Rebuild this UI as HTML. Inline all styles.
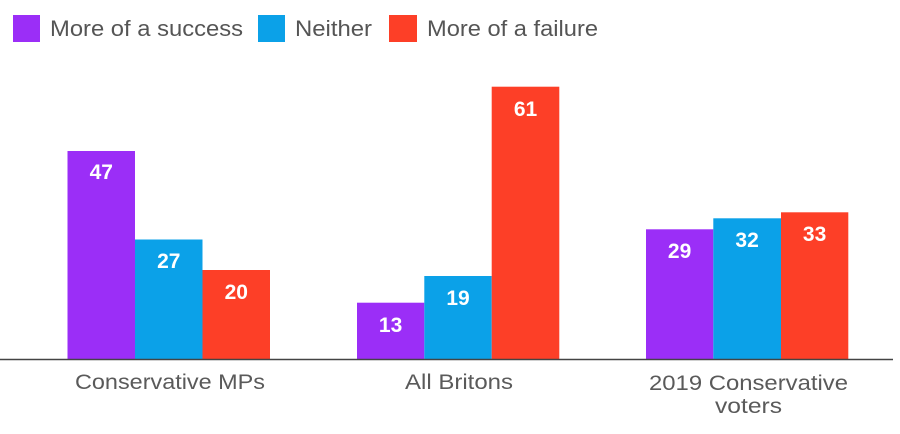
<!DOCTYPE html>
<html>
<head>
<meta charset="utf-8">
<style>
  html,body{margin:0;padding:0;background:#fff;}
  svg{display:block;}
  .lg{font-family:"Liberation Sans",sans-serif;font-size:22px;fill:#555;}
  .cat{font-family:"Liberation Sans",sans-serif;font-size:21px;fill:#5a5a5a;}
  .val{font-family:"Liberation Sans",sans-serif;font-size:21px;font-weight:bold;fill:#fff;text-anchor:middle;}
</style>
</head>
<body>
<svg width="900" height="434" viewBox="0 0 900 434" xmlns="http://www.w3.org/2000/svg">
  <rect width="900" height="434" fill="#fff"/>
  <!-- Legend -->
  <rect x="13" y="15" width="27" height="27" fill="#9b2ef7"/>
  <text class="lg" x="50" y="36" textLength="193" lengthAdjust="spacingAndGlyphs">More of a success</text>
  <rect x="258" y="15" width="27" height="27" fill="#0ba1e8"/>
  <text class="lg" x="295" y="36" textLength="77" lengthAdjust="spacingAndGlyphs">Neither</text>
  <rect x="389" y="15" width="28" height="27" fill="#fd3f27"/>
  <text class="lg" x="427" y="36" textLength="171" lengthAdjust="spacingAndGlyphs">More of a failure</text>

  <!-- Group 1 -->
  <rect x="67.5" y="151" width="67.5" height="208.5" fill="#9b2ef7"/>
  <rect x="135" y="239.5" width="67.5" height="120" fill="#0ba1e8"/>
  <rect x="202.5" y="270" width="67.5" height="89.5" fill="#fd3f27"/>
  <text class="val" x="101.25" y="179">47</text>
  <text class="val" x="168.75" y="268">27</text>
  <text class="val" x="236.25" y="299">20</text>

  <!-- Group 2 -->
  <rect x="357" y="302.7" width="67.3" height="56.8" fill="#9b2ef7"/>
  <rect x="424.3" y="276" width="67.4" height="83.5" fill="#0ba1e8"/>
  <rect x="491.7" y="86.7" width="67.6" height="272.8" fill="#fd3f27"/>
  <text class="val" x="390.6" y="332">13</text>
  <text class="val" x="458" y="305">19</text>
  <text class="val" x="525.5" y="116">61</text>

  <!-- Group 3 -->
  <rect x="646" y="229.3" width="67.3" height="130.2" fill="#9b2ef7"/>
  <rect x="713.3" y="218.3" width="67.7" height="141.2" fill="#0ba1e8"/>
  <rect x="781" y="212.3" width="67.3" height="147.2" fill="#fd3f27"/>
  <text class="val" x="679.6" y="258">29</text>
  <text class="val" x="747.1" y="247">32</text>
  <text class="val" x="814.6" y="241">33</text>

  <!-- Axis -->
  <line x1="0" y1="359.5" x2="893" y2="359.5" stroke="#444" stroke-width="1.5"/>

  <!-- Category labels -->
  <text class="cat" x="75" y="389" textLength="190" lengthAdjust="spacingAndGlyphs">Conservative MPs</text>
  <text class="cat" x="405" y="389" textLength="108" lengthAdjust="spacingAndGlyphs">All Britons</text>
  <text class="cat" x="649" y="390" textLength="199" lengthAdjust="spacingAndGlyphs">2019 Conservative</text>
  <text class="cat" x="715" y="413" textLength="67" lengthAdjust="spacingAndGlyphs">voters</text>
</svg>
</body>
</html>
